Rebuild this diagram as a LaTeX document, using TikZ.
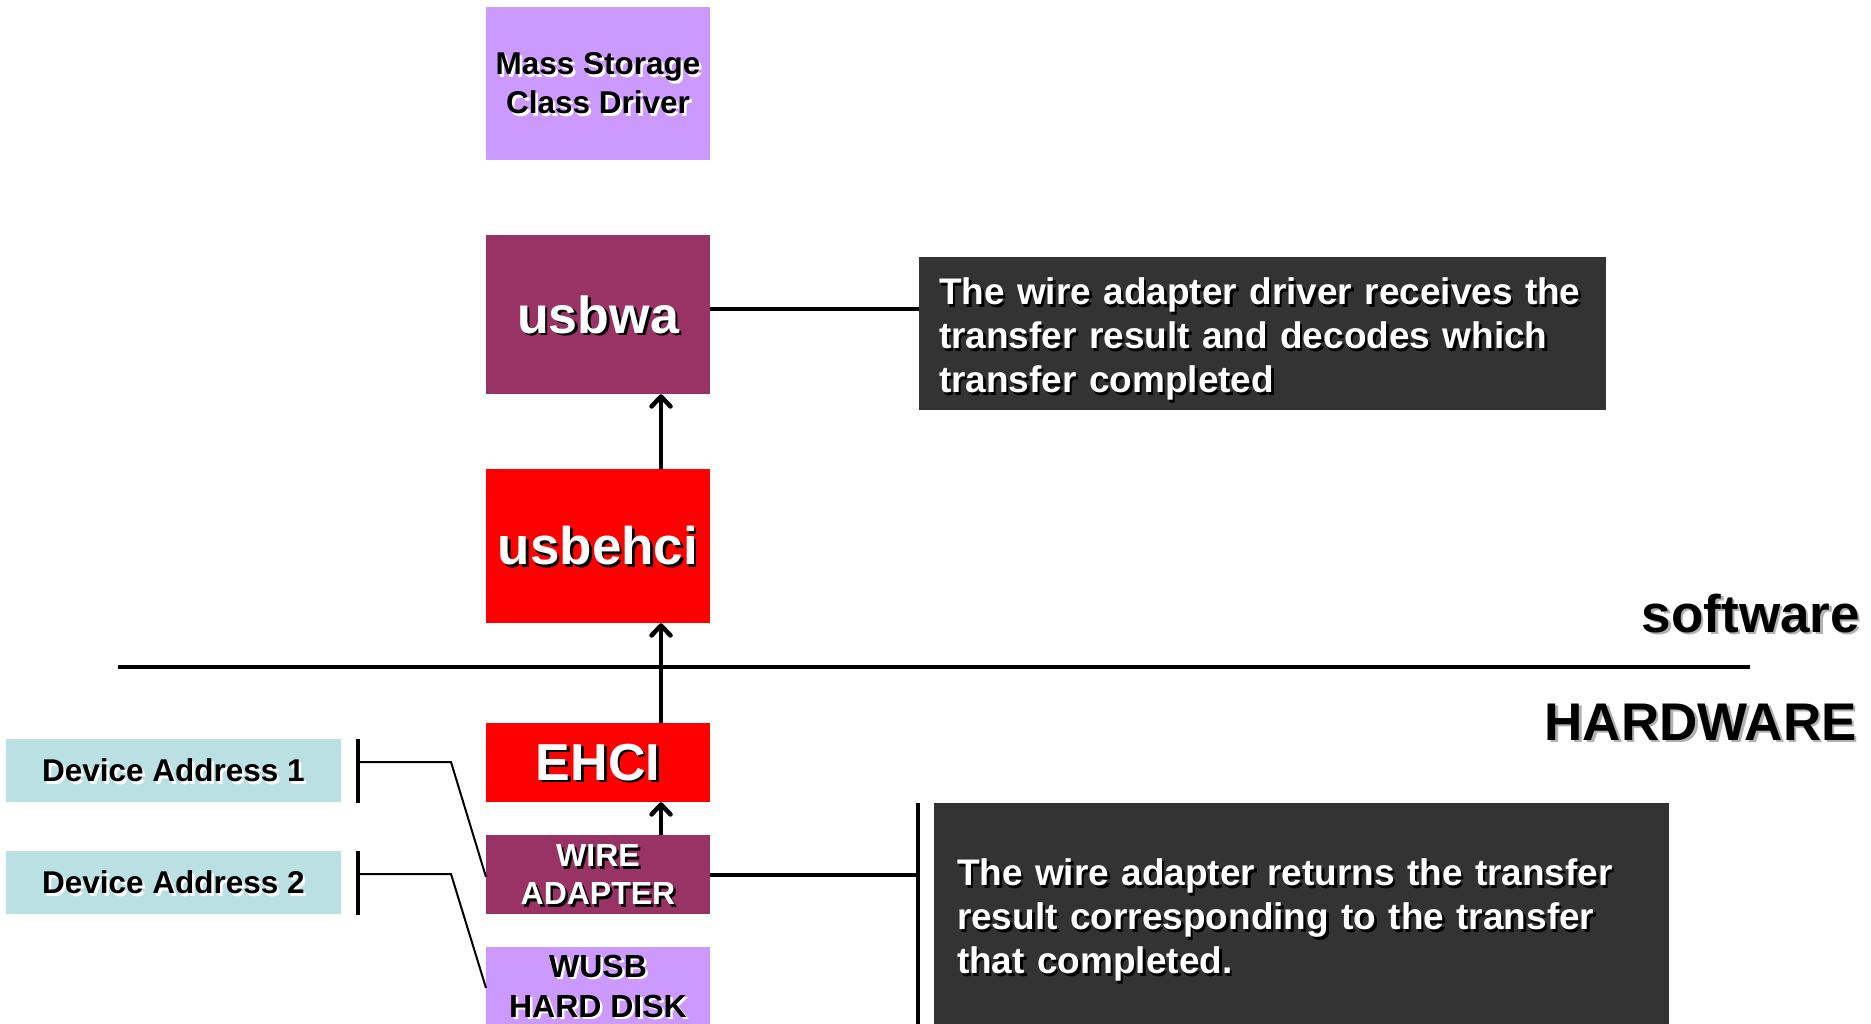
\documentclass[tikz,border=0pt]{standalone}
\usepackage{fontspec}
\setmainfont{Liberation Sans}
\usetikzlibrary{arrows.meta}
\definecolor{lav}{HTML}{CC99FF}
\definecolor{plum}{HTML}{993366}
\definecolor{hwred}{HTML}{FF0000}
\definecolor{devblue}{HTML}{BBE0E3}
\definecolor{callgray}{HTML}{333333}
\definecolor{shgray}{HTML}{B0B0B0}
\newcommand\shd[2][black]{\leavevmode\rlap{\smash{\kern2.5pt\raisebox{-2.5pt}{\textcolor{#1}{#2}}}}#2}
\tikzset{
  box/.style={draw=none, minimum width=224pt, inner sep=0pt, align=center},
  devbox/.style={fill=devblue, draw=none, minimum width=335pt, minimum height=63pt, inner sep=0pt,
     font=\fontsize{31.5}{38}\selectfont\bfseries},
  callout/.style={fill=callgray, draw=none, text=white, align=left,
     font=\fontsize{37}{44}\selectfont\bfseries},
  lnk/.style={line width=4pt},
  arr/.style={line width=4.5pt, -{Straight Barb[length=10pt,width=19pt,round]}},
  brk/.style={line width=2pt},
  bar/.style={line width=3.5pt},
}
\begin{document}
\begin{tikzpicture}[x=1pt,y=-1pt]
\useasboundingbox (0,0) rectangle (1871,1024);

% software stack
\node[box, fill=lav, minimum height=153pt, font=\fontsize{31.5}{39}\selectfont\bfseries]
  (mass) at (598,83.5) {\shd[white]{Mass Storage}\\\shd[white]{Class Driver}};
\node[box, fill=plum, minimum height=159pt, text=white, font=\fontsize{52}{60}\selectfont\bfseries]
  (usbwa) at (598,314.5) {\shd{usbwa}};
\node[box, fill=hwred, minimum height=154pt, text=white, font=\fontsize{53}{60}\selectfont\bfseries]
  (usbehci) at (598,546) {\shd{usbehci}};

% hardware
\node[box, fill=hwred, minimum height=79pt, text=white, font=\fontsize{52}{60}\selectfont\bfseries]
  (ehci) at (598,762.5) {\shd{EHCI}};
\node[box, fill=plum, minimum height=79pt, text=white, font=\fontsize{32}{38}\selectfont\bfseries]
  (wa) at (598,874.5) {\shd[black]{WIRE}\\\shd[black]{ADAPTER}};
\node[box, fill=lav, minimum height=78pt, font=\fontsize{32}{40}\selectfont\bfseries]
  (wusb) at (598,986) {\shd[white]{WUSB}\\\shd[white]{HARD DISK}};

\node[devbox] (dev1) at (173.5,770.5) {\shd[white]{Device Address 1}};
\node[devbox] (dev2) at (173.5,882.5) {\shd[white]{Device Address 2}};

% layer labels
\node[anchor=base east, inner sep=0pt, font=\fontsize{53}{60}\selectfont\bfseries]
  (sw) at (1860,632) {\shd[shgray]{software}};
\node[anchor=base east, inner sep=0pt, font=\fontsize{53}{60}\selectfont\bfseries]
  (hw) at (1857,740) {\shd[shgray]{HARDWARE}};

% callouts
\node[callout, text width=647pt, inner xsep=20pt, inner ysep=0pt, minimum height=153pt]
  (call1) at (1262.5,333.5)
  {\rule{0pt}{38pt}\shd{The wire adapter driver receives the}\\\shd{transfer result and decodes which}\\\shd{transfer completed}};
\node[callout, text width=689pt, inner xsep=23pt, inner ysep=0pt, minimum height=227pt]
  (call2) at (1301.5,916.5)
  {\rule{0pt}{34pt}\shd{The wire adapter returns the transfer}\\\shd{result corresponding to the transfer}\\\shd{that completed.}};

% separator
\coordinate (sepL) at (118,667);
\coordinate (sepR) at (1750,667);
\draw[bar] (sepL) -- (sepR);

% arrows up the stack
\draw[arr] ([xshift=63pt]wa.north) -- ([xshift=63pt]ehci.south);
\draw[arr] ([xshift=63pt]ehci.north) -- ([xshift=63pt]usbehci.south);
\draw[arr] ([xshift=63pt]usbehci.north) -- ([xshift=63pt]usbwa.south);

% callout connectors
\draw[lnk] ([yshift=5.5pt]usbwa.east) -- ([yshift=5.5pt]usbwa.east -| call1.west);
\coordinate (vbT) at (918,803);
\coordinate (vbB) at (918,1030);
\draw[bar] (vbT) -- (vbB);
\draw[lnk] (wa.east) -- (wa.east -| vbT);

% device address brackets
\coordinate (b1t) at (358,739);
\coordinate (b1b) at (358,803);
\coordinate (b1k) at (451,762);
\coordinate (b1e) at (486,877);
\draw[bar] (b1t) -- (b1b);
\draw[brk, line join=miter] (b1t |- b1k) -- (b1k) -- (b1e);
\coordinate (b2t) at (358,851);
\coordinate (b2b) at (358,915);
\coordinate (b2k) at (451,874);
\coordinate (b2e) at (486,988);
\draw[bar] (b2t) -- (b2b);
\draw[brk, line join=miter] (b2t |- b2k) -- (b2k) -- (b2e);
\end{tikzpicture}
\end{document}
